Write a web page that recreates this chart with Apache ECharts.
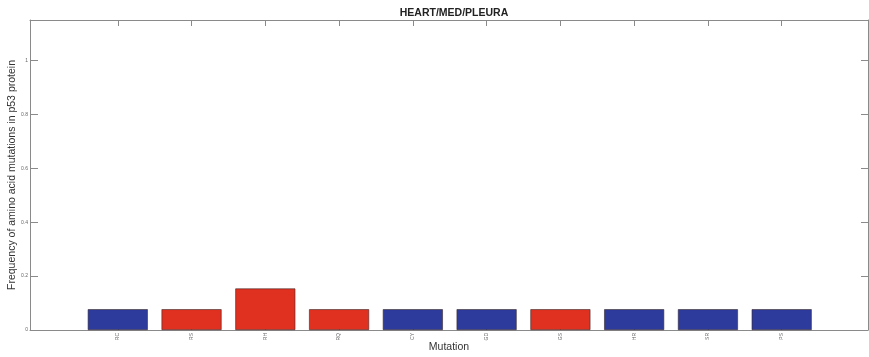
<!DOCTYPE html>
<html>
<head>
<meta charset="utf-8">
<script src="https://cdn.jsdelivr.net/npm/echarts@6/dist/echarts.min.js"></script>
<style>
html,body{margin:0;padding:0;background:#fff;}
#chart{width:869px;height:357px;}
</style>
</head>
<body>
<div id="chart"></div>
<script>
const categories = ['RC', 'RS', 'RH', 'RQ', 'CY', 'GD', 'GS', 'HR', 'SR', 'PS'];
const values = [0.077, 0.077, 0.154, 0.077, 0.077, 0.077, 0.077, 0.077, 0.077, 0.077];
const groupRed = [false, true, true, true, false, false, true, false, false, false];
const yTicks = [0, 0.2, 0.4, 0.6, 0.8, 1];

const BLUE = '#2d3b9c';
const RED = '#e0301f';
const AX = '#8a8a8a';

const idx = categories.map((c, i) => i);
const chart = echarts.init(document.getElementById('chart'));
chart.setOption({
  animation: false,
  backgroundColor: '#fff',
  title: {
    text: 'HEART/MED/PLEURA',
    left: 449, top: 3, textAlign: 'center',
    textStyle: {fontFamily: 'Liberation Sans', fontSize: 10.5, fontWeight: 'bold', color: '#222'}
  },
  grid: {left: 30, right: 1, top: 20, bottom: 27, containLabel: false, outerBoundsMode: 'none'},
  xAxis: [{
    type: 'value', min: -1.19, max: 10.17, position: 'bottom',
    name: 'Mutation', nameLocation: 'middle', nameGap: 12, nameMoveOverlap: false,
    nameTextStyle: {fontFamily: 'Liberation Sans', fontSize: 10.5, color: '#333'},
    axisLine: {show: true, onZero: false, lineStyle: {color: AX, width: 1}},
    axisTick: {show: true, inside: true, length: 6, customValues: idx, lineStyle: {color: AX}},
    axisLabel: {show: true, customValues: idx, rotate: 90, fontSize: 5, color: '#666', margin: 3,
      fontFamily: 'Liberation Sans', formatter: v => categories[Math.round(v)] || ''},
    splitLine: {show: false}
  }, {
    type: 'value', min: -1.19, max: 10.17, position: 'top',
    axisLine: {show: true, onZero: false, lineStyle: {color: AX, width: 1}},
    axisTick: {show: true, inside: true, length: 6, customValues: idx, lineStyle: {color: AX}},
    axisLabel: {show: false},
    splitLine: {show: false}
  }],
  yAxis: [{
    type: 'value', min: 0, max: 1.15, position: 'left',
    name: 'Frequency of amino acid mutations in p53 protein',
    nameLocation: 'middle', nameGap: 12, nameRotate: 90, nameMoveOverlap: false,
    nameTextStyle: {fontFamily: 'Liberation Sans', fontSize: 10.5, color: '#333'},
    axisLine: {show: true, onZero: false, lineStyle: {color: AX, width: 1}},
    axisTick: {show: true, inside: true, length: 8, customValues: yTicks, lineStyle: {color: AX}},
    axisLabel: {show: true, customValues: yTicks, fontSize: 5, color: '#666', margin: 2,
      fontFamily: 'Liberation Sans', formatter: v => String(+v.toFixed(1))},
    splitLine: {show: false}
  }, {
    type: 'value', min: 0, max: 1.15, position: 'right',
    axisLine: {show: true, onZero: false, lineStyle: {color: AX, width: 1}},
    axisTick: {show: true, inside: true, length: 7, customValues: yTicks, lineStyle: {color: AX}},
    axisLabel: {show: false},
    splitLine: {show: false}
  }],
  series: [{
    type: 'bar',
    xAxisIndex: 0, yAxisIndex: 0,
    barWidth: 60,
    data: values.map((v, i) => ({
      value: [i, v],
      itemStyle: {color: groupRed[i] ? RED : BLUE, borderColor: '#3a2a2a', borderWidth: 0.6}
    })),
    z: 1
  }]
});
</script>
</body>
</html>
